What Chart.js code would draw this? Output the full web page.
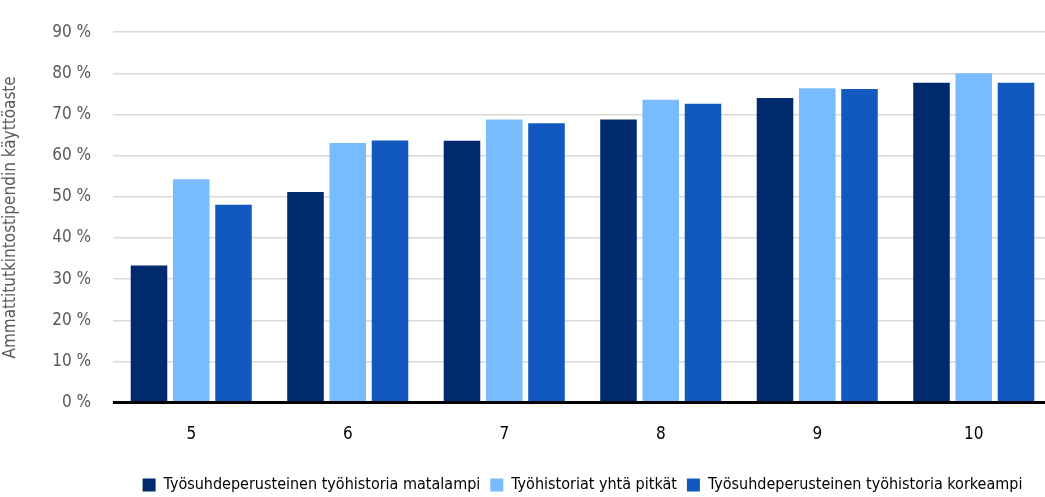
<!DOCTYPE html>
<html>
<head>
<meta charset="utf-8">
<script src="https://cdn.jsdelivr.net/npm/chart.js@4/dist/chart.umd.min.js"></script>
<style>
  html, body { margin: 0; padding: 0; background: #fff; overflow: hidden; }
  #wrap { width: 1045px; height: 497px; overflow: hidden; }
  #box { width: 1052px; height: 497px; }
</style>
</head>
<body>
<div id="wrap"><div id="box"><canvas id="myChart"></canvas></div></div>
<script>
const categories = ['5', '6', '7', '8', '9', '10'];
const seriesNames = [
  'Työsuhdeperusteinen työhistoria matalampi',
  'Työhistoriat yhtä pitkät',
  'Työsuhdeperusteinen työhistoria korkeampi'
];
const lowerHistory = [33.3, 51.2, 63.6, 68.8, 74.0, 77.7];
const equalHistory = [54.3, 63.1, 68.8, 73.6, 76.4, 80.0];
const higherHistory = [48.1, 63.7, 67.9, 72.6, 76.2, 77.7];
const colors = ['#002a6e', '#78bbff', '#1159bf'];

const FONT = "'Liberation Sans Narrow', 'DejaVu Sans Condensed', 'Roboto', sans-serif";

let data = {
  labels: categories,
  datasets: [lowerHistory, equalHistory, higherHistory].map(function (vals, i) {
    return {
      label: seriesNames[i],
      data: vals,
      backgroundColor: colors[i],
      borderWidth: 0,
      categoryPercentage: 0.81,
      barPercentage: 0.865
    };
  })
};

let ctx = document.getElementById('myChart').getContext('2d');
window.myBar = new Chart(ctx, {
  type: 'bar',
  data: data,
  options: {
    responsive: true,
    maintainAspectRatio: false,
    animation: false,
    layout: { padding: { top: 22, right: 0, bottom: -6, left: 0 } },
    plugins: {
      tooltip: { enabled: false },
      legend: {
        position: 'bottom',
        fullSize: false,
        labels: {
          boxWidth: 13,
          boxHeight: 13,
          padding: 10,
          color: '#000',
          font: { family: FONT, size: 16 }
        }
      }
    },
    scales: {
      x: {
        grid: { display: false, drawTicks: false },
        border: { display: false },
        ticks: { color: '#000', padding: 22, font: { family: FONT, size: 17 } }
      },
      y: {
        min: 0,
        max: 90,
        afterFit: function (scale) { scale.width = 113; },
        border: { display: false },
        grid: {
          drawTicks: false,
          color: function (c) { return c.tick.value === 0 ? '#000' : '#d9d9d9'; },
          lineWidth: function (c) { return c.tick.value === 0 ? 3 : 1.5; }
        },
        ticks: {
          stepSize: 10,
          padding: 22,
          color: '#595959',
          font: { family: FONT, size: 17 },
          callback: function (v) { return v + ' %'; }
        },
        title: {
          display: true,
          text: 'Ammattitutkintostipendin käyttöaste',
          color: '#595959',
          padding: { top: 0, bottom: 0 },
          font: { family: FONT, size: 17 }
        }
      }
    }
  }
});
</script>
</body>
</html>
